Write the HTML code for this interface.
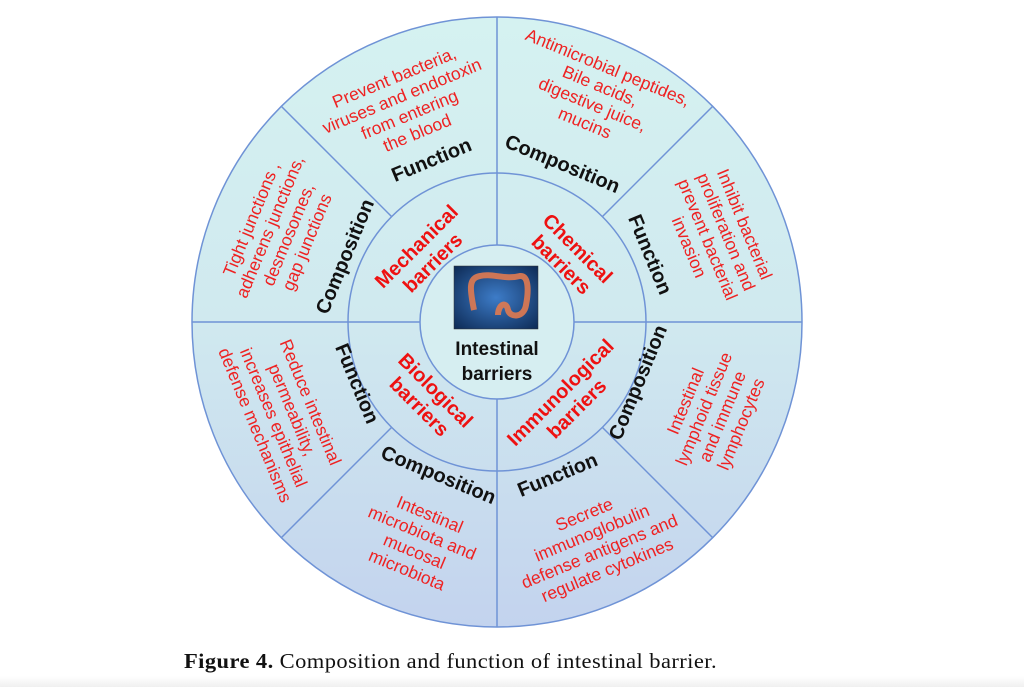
<!DOCTYPE html>
<html><head><meta charset="utf-8"><style>
html,body{margin:0;padding:0;background:#fff;width:1024px;height:687px;overflow:hidden}
svg{display:block}
.b{font-family:"Liberation Sans",sans-serif;font-weight:bold;font-size:20px;fill:#111;text-anchor:middle}
.r{font-family:"Liberation Sans",sans-serif;font-size:17.5px;fill:#ee2222;text-anchor:middle}
.rb{font-family:"Liberation Sans",sans-serif;font-weight:bold;font-size:20px;fill:#ee1111;text-anchor:middle}
</style></head><body>
<svg width="1024" height="687" viewBox="0 0 1024 687">
<defs>
<linearGradient id="g" x1="0" y1="0" x2="0" y2="1">
<stop offset="0" stop-color="#d5f2f1"/><stop offset="0.5" stop-color="#d0e9ef"/><stop offset="1" stop-color="#c3d3ee"/>
</linearGradient>
<linearGradient id="band" x1="0" y1="0" x2="0" y2="1"><stop offset="0" stop-color="#fff"/><stop offset="1" stop-color="#f0f0f0"/></linearGradient>
<radialGradient id="img" cx="0.5" cy="0.5" r="0.7"><stop offset="0" stop-color="#3d7cc8"/><stop offset="1" stop-color="#0d2a55"/></radialGradient>
</defs>
<rect x="0" y="676" width="1024" height="11" fill="url(#band)"/>
<g stroke="#6f93d6" stroke-width="1.5" fill="none">
<circle cx="497" cy="322" r="305" fill="url(#g)"/>
<circle cx="497" cy="322" r="149"/>
<circle cx="497" cy="322" r="77" fill="#d6eef1"/>
<line x1="497" y1="17" x2="497" y2="245"/>
<line x1="497" y1="399" x2="497" y2="627"/>
<line x1="192" y1="322" x2="420" y2="322"/>
<line x1="574" y1="322" x2="802" y2="322"/>
<line x1="281" y1="106" x2="392" y2="217"/>
<line x1="713" y1="106" x2="602" y2="217"/>
<line x1="281" y1="538" x2="392" y2="427"/>
<line x1="713" y1="538" x2="602" y2="427"/>
</g>
<rect x="454" y="266" width="84" height="63" fill="url(#img)" stroke="#333" stroke-width="0.5"/>
<path d="M474 310 C470 290 468 278 480 276 C492 273 505 280 520 276 C530 275 528 295 526 305 C524 318 510 318 508 310 C506 300 498 305 498 315" stroke="#e07a50" stroke-width="6" fill="none" opacity="0.9"/>
<text class="b" x="497" y="355" style="font-size:19px">Intestinal</text>
<text class="b" x="497" y="380" style="font-size:19px">barriers</text>

<g transform="translate(424,254) rotate(-45)"><text class="rb" x="0" y="-4">Mechanical</text><text class="rb" x="0" y="19">barriers</text></g>
<g transform="translate(570,256) rotate(45)"><text class="rb" x="0" y="-4">Chemical</text><text class="rb" x="0" y="19">barriers</text></g>
<g transform="translate(428,398) rotate(45)"><text class="rb" x="0" y="-4">Biological</text><text class="rb" x="0" y="19">barriers</text></g>
<g transform="translate(568,400) rotate(-45)"><text class="rb" x="0" y="-4">Immunological</text><text class="rb" x="0" y="19">barriers</text></g>

<g transform="translate(434,166) rotate(-22.5)"><text class="b">Function</text></g>
<g transform="translate(406,106) rotate(-22.5)"><text class="r" y="-25">Prevent bacteria,</text><text class="r" y="-5">viruses and endotoxin</text><text class="r" y="15">from entering</text><text class="r" y="35">the blood</text></g>

<g transform="translate(351,259) rotate(-67.5)"><text class="b">Composition</text></g>
<g transform="translate(280,231) rotate(-67.5)"><text class="r" y="-25">Tight junctions ,</text><text class="r" y="-5">adherens junctions,</text><text class="r" y="15">desmosomes,</text><text class="r" y="35">gap junctions</text></g>

<g transform="translate(560,170) rotate(22.5)"><text class="b">Composition</text></g>
<g transform="translate(596,96) rotate(22.5)"><text class="r" y="-25">Antimicrobial peptides,</text><text class="r" y="-5">Bile acids,</text><text class="r" y="15">digestive juice,</text><text class="r" y="35">mucins</text></g>

<g transform="translate(644,257) rotate(67.5)"><text class="b">Function</text></g>
<g transform="translate(716,236) rotate(67.5)"><text class="r" y="-25">Inhibit bacterial</text><text class="r" y="-5">proliferation and</text><text class="r" y="15">prevent bacterial</text><text class="r" y="35">invasion</text></g>

<g transform="translate(644,385) rotate(-67.5)"><text class="b">Composition</text></g>
<g transform="translate(714,413) rotate(-67.5)"><text class="r" y="-25">Intestinal</text><text class="r" y="-5">lymphoid tissue</text><text class="r" y="15">and immune</text><text class="r" y="35">lymphocytes</text></g>

<g transform="translate(560,481) rotate(-22.5)"><text class="b">Function</text></g>
<g transform="translate(596,543) rotate(-22.5)"><text class="r" y="-25">Secrete</text><text class="r" y="-5">immunoglobulin</text><text class="r" y="15">defense antigens and</text><text class="r" y="35">regulate cytokines</text></g>

<g transform="translate(436,481) rotate(22.5)"><text class="b">Composition</text></g>
<g transform="translate(418,543) rotate(22.5)"><text class="r" y="-25">Intestinal</text><text class="r" y="-5">microbiota and</text><text class="r" y="15">mucosal</text><text class="r" y="35">microbiota</text></g>

<g transform="translate(351,386) rotate(67.5)"><text class="b">Function</text></g>
<g transform="translate(282,414) rotate(67.5)"><text class="r" y="-25">Reduce intestinal</text><text class="r" y="-5">permeability,</text><text class="r" y="15">increases epithelial</text><text class="r" y="35">defense mechanisms</text></g>

<text x="184" y="668" font-family="Liberation Serif,serif" font-size="21.5" letter-spacing="0.4" fill="#111" textLength="533" lengthAdjust="spacingAndGlyphs"><tspan font-weight="bold">Figure 4.</tspan> Composition and function of intestinal barrier.</text>
</svg>
</body></html>
